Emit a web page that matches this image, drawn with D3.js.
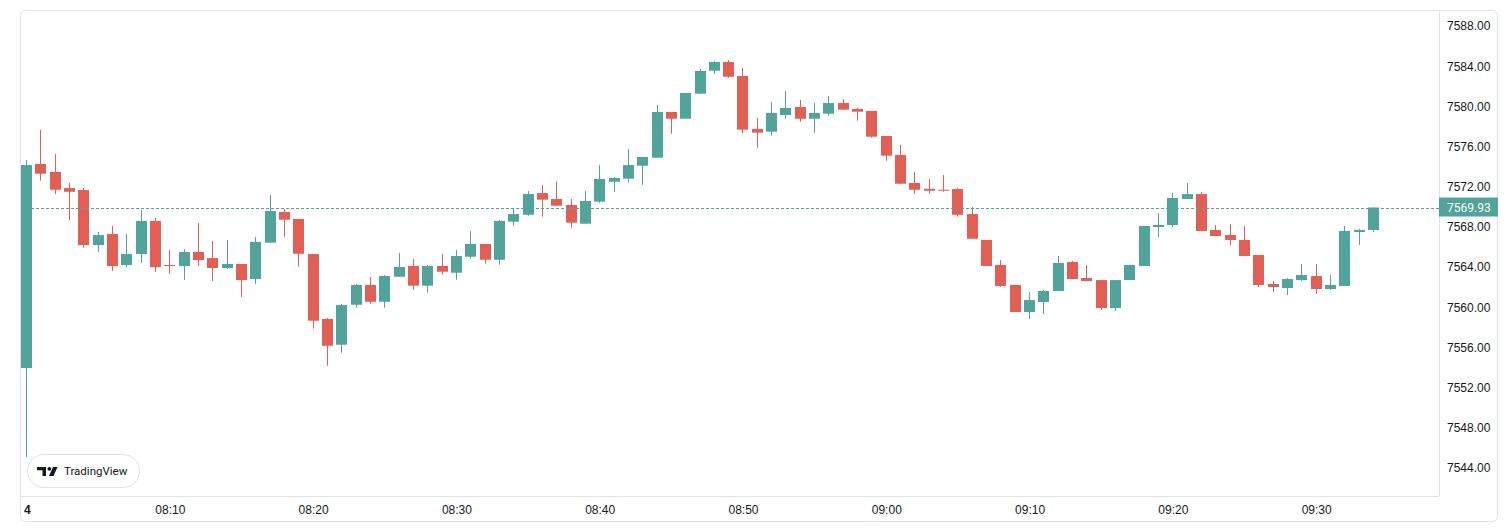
<!DOCTYPE html>
<html lang="en">
<head>
    <meta charset="UTF-8">
    <title>Candlestick Chart</title>
    <script src="https://d3js.org/d3.v7.min.js"></script>
    <style>
        body { margin: 0; background: #fff; }
        svg { display: block; font-family: Roboto, "Noto Sans", sans-serif; }
    </style>
</head>
<body>
<div id="chart"></div>
<script>
    // one-minute bars from 08:00 on day 4
    const startTime = new Date(2024, 2, 4, 8, 0);

    const opens = [
        7553.95, 7574.26, 7573.47, 7571.87, 7571.67, 7566.20, 7567.29, 7564.21, 7565.30, 7568.59,
        7564.21, 7564.11, 7565.50, 7564.90, 7563.91, 7564.31, 7562.81, 7566.43, 7569.48, 7568.79,
        7565.30, 7558.83, 7556.27, 7560.25, 7562.22, 7560.55, 7563.04, 7564.11, 7562.15, 7564.11,
        7563.44, 7565.03, 7566.30, 7564.73, 7568.52, 7569.21, 7571.37, 7570.78, 7570.18, 7568.32,
        7570.51, 7572.50, 7572.80, 7574.09, 7574.89, 7579.44, 7578.77, 7581.26, 7583.55, 7584.42,
        7583.02, 7577.75, 7577.48, 7579.14, 7579.94, 7578.77, 7579.27, 7580.33, 7579.74, 7579.54,
        7577.05, 7575.16, 7572.37, 7571.80, 7571.70, 7571.77, 7569.28, 7566.70, 7564.21, 7562.22,
        7559.53, 7560.52, 7561.62, 7564.51, 7562.91, 7562.71, 7559.93, 7562.71, 7564.11, 7567.99,
        7568.19, 7570.78, 7571.27, 7567.69, 7567.19, 7566.70, 7565.20, 7562.32, 7561.92, 7562.71,
        7563.11, 7561.82, 7562.12, 7567.49, 7567.69
    ];
    const highs = [
        7574.66, 7577.65, 7575.26, 7572.37, 7571.87, 7567.49, 7568.09, 7567.29, 7569.68, 7568.89,
        7565.70, 7565.80, 7568.39, 7566.60, 7566.70, 7564.31, 7567.00, 7571.18, 7569.78, 7568.79,
        7565.30, 7558.93, 7560.32, 7562.32, 7563.01, 7563.21, 7565.40, 7564.80, 7564.21, 7565.30,
        7565.70, 7567.59, 7566.30, 7568.69, 7569.78, 7571.57, 7572.17, 7572.57, 7570.78, 7571.57,
        7574.16, 7572.97, 7575.76, 7574.96, 7580.14, 7579.44, 7581.33, 7583.72, 7584.52, 7584.62,
        7583.82, 7578.84, 7580.43, 7581.53, 7580.63, 7580.33, 7581.03, 7580.73, 7579.84, 7579.54,
        7577.05, 7576.15, 7573.47, 7572.77, 7573.17, 7571.90, 7569.98, 7566.70, 7564.70, 7562.22,
        7561.52, 7561.72, 7565.10, 7564.61, 7564.21, 7562.71, 7562.71, 7564.21, 7568.09, 7569.38,
        7571.37, 7572.37, 7571.47, 7568.19, 7568.29, 7568.09, 7565.20, 7562.61, 7562.91, 7564.31,
        7564.31, 7563.21, 7568.09, 7567.79, 7569.93
    ];
    const lows = [
        7545.10, 7572.60, 7571.28, 7568.69, 7565.93, 7565.50, 7563.61, 7564.00, 7564.41, 7563.51,
        7563.31, 7562.71, 7564.11, 7562.61, 7563.81, 7561.02, 7562.32, 7566.43, 7567.02, 7564.04,
        7557.87, 7554.18, 7555.48, 7559.96, 7560.35, 7559.96, 7563.04, 7561.75, 7561.45, 7563.24,
        7562.74, 7564.83, 7564.34, 7564.24, 7568.12, 7569.12, 7569.02, 7570.11, 7567.92, 7568.32,
        7570.41, 7571.50, 7572.40, 7572.20, 7574.89, 7577.28, 7578.77, 7581.26, 7583.25, 7582.85,
        7577.28, 7575.88, 7577.08, 7578.77, 7578.47, 7577.38, 7579.07, 7579.67, 7578.57, 7576.88,
        7574.59, 7572.30, 7571.30, 7571.30, 7571.50, 7569.02, 7566.80, 7564.11, 7562.02, 7559.53,
        7558.83, 7559.33, 7561.62, 7562.81, 7562.61, 7559.73, 7559.63, 7562.71, 7564.11, 7566.99,
        7567.99, 7570.78, 7567.59, 7567.09, 7566.20, 7565.10, 7562.02, 7561.52, 7561.22, 7562.61,
        7561.32, 7561.72, 7562.12, 7566.20, 7567.49
    ];
    const closes = [
        7574.16, 7573.30, 7571.70, 7571.50, 7566.20, 7567.19, 7564.11, 7565.30, 7568.59, 7564.00,
        7564.11, 7565.50, 7564.70, 7563.91, 7564.31, 7562.71, 7566.50, 7569.58, 7568.72, 7565.33,
        7558.66, 7556.17, 7560.22, 7562.22, 7560.55, 7563.11, 7564.01, 7562.15, 7564.11, 7563.54,
        7565.10, 7566.30, 7564.73, 7568.59, 7569.28, 7571.27, 7570.71, 7570.11, 7568.42, 7570.58,
        7572.77, 7572.87, 7574.16, 7574.96, 7579.44, 7578.77, 7581.33, 7583.52, 7584.42, 7582.95,
        7577.68, 7577.38, 7579.34, 7579.84, 7578.77, 7579.34, 7580.33, 7579.67, 7579.47, 7576.98,
        7575.09, 7572.30, 7571.70, 7571.60, 7571.60, 7569.21, 7566.82, 7564.11, 7562.12, 7559.53,
        7560.72, 7561.62, 7564.41, 7562.81, 7562.61, 7559.93, 7562.71, 7564.21, 7568.09, 7568.19,
        7570.88, 7571.27, 7567.59, 7567.09, 7566.70, 7565.10, 7562.22, 7562.02, 7562.81, 7563.21,
        7561.82, 7562.22, 7567.59, 7567.69, 7569.93
    ];

    const priceTicks = [7544, 7548, 7552, 7556, 7560, 7564, 7568, 7572, 7576, 7580, 7584, 7588];
    const timeTicks = ["08:00", "08:10", "08:20", "08:30", "08:40", "08:50", "09:00", "09:10", "09:20", "09:30"];
    const dayLabel = "4";
    const lastPrice = 7569.93;

    const upColor = "#52a49a";
    const downColor = "#e15f55";
    const lineColor = "#e0e3eb";
    const textColor = "#131722";

    const width = 1510, height = 528;
    const pane = {left: 20, top: 10, right: 1439, bottom: 496};

    const parseTime = t => {
        const [h, m] = t.split(":").map(Number);
        return new Date(2024, 2, 4, h, m);
    };

    const bars = opens.map((o, i) => ({
        time: d3.timeMinute.offset(startTime, i),
        open: o, high: highs[i], low: lows[i], close: closes[i]
    }));

    const x = d3.scaleTime()
        .domain([bars[0].time, bars[bars.length - 1].time])
        .range([26.5, 1373.5]);

    const y = d3.scaleLinear()
        .domain([7544, 7588])
        .range([468, 26]);

    const svg = d3.select("#chart")
        .append("svg")
        .attr("width", width)
        .attr("height", height);

    // frame
    svg.append("rect")
        .attr("x", 20.5).attr("y", 10.5)
        .attr("width", 1477).attr("height", 511)
        .attr("rx", 5)
        .attr("fill", "none")
        .attr("stroke", lineColor);

    svg.append("line")
        .attr("x1", pane.right + 0.5).attr("x2", pane.right + 0.5)
        .attr("y1", pane.top).attr("y2", pane.bottom)
        .attr("stroke", lineColor);

    svg.append("line")
        .attr("x1", pane.left).attr("x2", pane.right)
        .attr("y1", pane.bottom + 0.5).attr("y2", pane.bottom + 0.5)
        .attr("stroke", lineColor);

    const plot = svg.append("g");

    // wicks
    plot.selectAll(".wick")
        .data(bars)
        .join("rect")
        .attr("class", "wick")
        .attr("x", d => Math.floor(x(d.time)))
        .attr("width", 1)
        .attr("y", d => y(d.high))
        .attr("height", d => Math.max(1, y(d.low) - y(d.high)))
        .attr("fill", d => d.close >= d.open ? upColor : downColor);

    // bodies
    plot.selectAll(".body")
        .data(bars)
        .join("rect")
        .attr("class", "body")
        .attr("x", d => Math.round(x(d.time) - 5.5))
        .attr("width", 11)
        .attr("y", d => y(Math.max(d.open, d.close)))
        .attr("height", d => Math.max(1, Math.abs(y(d.open) - y(d.close))))
        .attr("fill", d => d.close >= d.open ? upColor : downColor);

    // last price line
    svg.append("line")
        .attr("x1", pane.left + 1).attr("x2", pane.right)
        .attr("y1", Math.round(y(lastPrice)) + 0.5).attr("y2", Math.round(y(lastPrice)) + 0.5)
        .attr("stroke", upColor)
        .attr("stroke-width", 1)
        .attr("stroke-dasharray", "3,2");

    // price axis
    const yAxis = svg.append("g")
        .attr("transform", `translate(${pane.right},0)`)
        .call(d3.axisRight(y)
            .tickValues(priceTicks)
            .tickFormat(d3.format(".2f"))
            .tickSize(0)
            .tickPadding(8));
    yAxis.select(".domain").remove();
    yAxis.selectAll("text")
        .attr("fill", textColor)
        .style("font-size", "12px");

    // last price label
    const ly = y(lastPrice);
    svg.append("rect")
        .attr("x", pane.right).attr("y", ly - 10)
        .attr("width", 59).attr("height", 19)
        .attr("fill", upColor);
    svg.append("text")
        .attr("x", pane.right + 8).attr("y", ly)
        .attr("dy", "0.35em")
        .attr("fill", "#fff")
        .style("font-size", "12px")
        .text(d3.format(".2f")(lastPrice));

    // time axis
    const xAxis = svg.append("g")
        .attr("transform", `translate(0,${pane.bottom})`)
        .call(d3.axisBottom(x)
            .tickValues(timeTicks.map(parseTime))
            .tickFormat((d, i) => i === 0 ? dayLabel : d3.timeFormat("%H:%M")(d))
            .tickSize(0)
            .tickPadding(9));
    xAxis.select(".domain").remove();
    xAxis.selectAll("text")
        .attr("fill", textColor)
        .style("font-size", "12px")
        .style("font-weight", (d, i) => i === 0 ? "bold" : null)
        .attr("text-anchor", (d, i) => i === 0 ? "start" : "middle")
        .attr("dx", (d, i) => i === 0 ? "-3" : null);

    // TradingView badge
    const badge = svg.append("g").attr("transform", "translate(27,454)");
    badge.append("rect")
        .attr("x", 0.5).attr("y", 0.5)
        .attr("width", 112).attr("height", 33)
        .attr("rx", 16.5)
        .attr("fill", "#fff")
        .attr("stroke", lineColor);
    badge.append("path")
        .attr("d", "M10,13 H19 V22 H15.5 V16.3 H10 Z")
        .attr("fill", textColor);
    badge.append("circle")
        .attr("cx", 22.3).attr("cy", 14.8).attr("r", 1.9)
        .attr("fill", textColor);
    badge.append("path")
        .attr("d", "M26,13 H30.5 L26.5,22 H22 Z")
        .attr("fill", textColor);
    badge.append("text")
        .attr("x", 37).attr("y", 21)
        .attr("fill", textColor)
        .style("font-size", "11.5px")
        .style("font-weight", "normal")
        .text("TradingView");
</script>
</body>
</html>
